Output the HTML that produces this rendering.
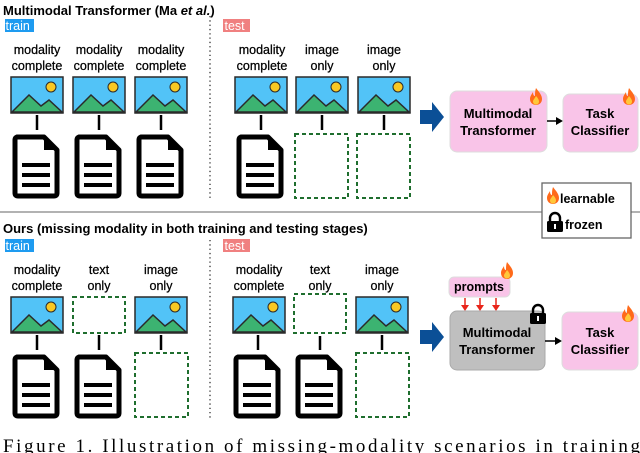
<!DOCTYPE html>
<html><head><style>body{margin:0;background:#fff}svg{display:block}</style></head><body>
<svg width="640" height="453" viewBox="0 0 640 453" xmlns="http://www.w3.org/2000/svg" font-family="Liberation Sans, sans-serif">
<defs>
<g id="img">
<rect x="0" y="0" width="52" height="36" fill="#52c3f7" stroke="#2a2a2a" stroke-width="1.5"/>
<path d="M1 35 L18 18 L30 29 L38 23 L51 35 Z" fill="#3cb371" stroke="#2a2a2a" stroke-width="1.5"/>
<circle cx="40" cy="10" r="5" fill="#f9c823" stroke="#2a2a2a" stroke-width="1"/>
</g>
<g id="doc">
<path d="M5 3 H32 L45 16 V59 Q45 62 42 62 H6 Q3 62 3 59 V6 Q3 3 6 3 Z" fill="#fff" stroke="#000" stroke-width="5" stroke-linejoin="round"/>
<path d="M32 3 V16 H45 Z" fill="#000"/>
<rect x="10" y="29" width="28" height="4" fill="#000"/>
<rect x="10" y="39" width="28" height="4" fill="#000"/>
<rect x="10" y="49" width="28" height="4" fill="#000"/>
</g>
<g id="flame">
<path d="M6 0 C9 4 12 7 12 11 C12 15 9 17 6 17 C3 17 0 15 0 11 C0 8 2 6 3 4 C3 7 4 8 5 8 C5 5 5 3 6 0 Z" fill="#ff6a1a"/>
<path d="M6 8 C8 10 9 12 9 13.5 C9 15.5 7.5 16.5 6 16.5 C4.5 16.5 3 15.5 3 13.5 C3 12 5 10 6 8 Z" fill="#ffc83a"/>
</g>
<g id="lock">
<path d="M3 8 V5 A5 5 0 0 1 13 5 V8" fill="none" stroke="#000" stroke-width="2.4"/>
<rect x="0" y="8" width="16" height="11" rx="1.5" fill="#000"/>
<rect x="7" y="11" width="2" height="5" fill="#fff"/>
</g>
</defs>

<text x="3" y="15" font-size="13" font-weight="bold">Multimodal Transformer (Ma <tspan font-style="italic">et al.</tspan>)</text>
<rect x="5" y="19" width="29" height="13" fill="#1e9bf0"/><text x="5.5" y="30" font-size="12.5" fill="#fff">train</text>
<rect x="223" y="19" width="27" height="13" fill="#f08080"/><text x="224.5" y="30" font-size="12.5" fill="#fff">test</text>
<line x1="210" y1="16" x2="210" y2="200" stroke="#333" stroke-width="1.3" stroke-dasharray="1.3,3"/>

<g font-size="12.5" text-anchor="middle" stroke="#000" stroke-width="0.25">
<text x="37" y="54">modality</text><text x="37" y="70">complete</text>
<text x="99" y="54">modality</text><text x="99" y="70">complete</text>
<text x="161" y="54">modality</text><text x="161" y="70">complete</text>
<text x="262" y="54">modality</text><text x="262" y="70">complete</text>
<text x="322" y="54">image</text><text x="322" y="70">only</text>
<text x="384" y="54">image</text><text x="384" y="70">only</text>
</g>
<use href="#img" x="11" y="77"/><use href="#img" x="73" y="77"/><use href="#img" x="135" y="77"/>
<use href="#img" x="235" y="77"/><use href="#img" x="296" y="77"/><use href="#img" x="358" y="77"/>
<g stroke="#000" stroke-width="2.5">
<line x1="37" y1="115" x2="37" y2="130"/><line x1="99" y1="115" x2="99" y2="130"/><line x1="161" y1="115" x2="161" y2="130"/>
<line x1="261" y1="115" x2="261" y2="130"/><line x1="322" y1="115" x2="322" y2="130"/><line x1="384" y1="115" x2="384" y2="130"/>
</g>
<use href="#doc" x="12" y="134"/><use href="#doc" x="74" y="134"/><use href="#doc" x="136" y="134"/><use href="#doc" x="236" y="134"/>
<g fill="none" stroke="#1f6e2e" stroke-width="2" stroke-dasharray="4,3">
<rect x="295" y="134" width="53" height="64"/><rect x="357" y="134" width="53" height="64"/>
</g>

<path d="M420 110 H432 V102 L444 117 L432 132 V124 H420 Z" fill="#0b4f96"/>
<rect x="450" y="91" width="97" height="61" rx="7" fill="#f9c4e8" stroke="#ddd"/>
<text x="498" y="118" font-size="13" font-weight="bold" text-anchor="middle">Multimodal</text>
<text x="498" y="135" font-size="13" font-weight="bold" text-anchor="middle">Transformer</text>
<use href="#flame" x="530" y="88"/>
<line x1="547" y1="121" x2="558" y2="121" stroke="#000" stroke-width="1.5"/><path d="M563 121 L556 117 V125 Z"/>
<rect x="563" y="94" width="75" height="58" rx="7" fill="#f9c4e8" stroke="#ddd"/>
<text x="600" y="118" font-size="13" font-weight="bold" text-anchor="middle">Task</text>
<text x="600" y="135" font-size="13" font-weight="bold" text-anchor="middle">Classifier</text>
<use href="#flame" x="623" y="88"/>

<line x1="0" y1="212" x2="542" y2="212" stroke="#666" stroke-width="1"/><line x1="631" y1="212" x2="640" y2="212" stroke="#666" stroke-width="1"/>
<rect x="542" y="183" width="89" height="55" fill="#fff" stroke="#666" stroke-width="1.3"/>
<use href="#flame" x="547" y="187"/><text x="560" y="203" font-size="12.5" font-weight="bold">learnable</text>
<use href="#lock" x="547" y="213"/><text x="565" y="229" font-size="12.5" font-weight="bold">frozen</text>

<text x="3" y="233" font-size="13" font-weight="bold">Ours (missing modality in both training and testing stages)</text>
<rect x="5" y="239" width="29" height="13" fill="#1e9bf0"/><text x="5.5" y="250" font-size="12.5" fill="#fff">train</text>
<rect x="223" y="239" width="27" height="13" fill="#f08080"/><text x="224.5" y="250" font-size="12.5" fill="#fff">test</text>
<line x1="210" y1="240" x2="210" y2="420" stroke="#333" stroke-width="1.3" stroke-dasharray="1.3,3"/>

<g font-size="12.5" text-anchor="middle" stroke="#000" stroke-width="0.25">
<text x="37" y="274">modality</text><text x="37" y="290">complete</text>
<text x="99" y="274">text</text><text x="99" y="290">only</text>
<text x="161" y="274">image</text><text x="161" y="290">only</text>
<text x="259" y="274">modality</text><text x="259" y="290">complete</text>
<text x="320" y="274">text</text><text x="320" y="290">only</text>
<text x="382" y="274">image</text><text x="382" y="290">only</text>
</g>
<use href="#img" x="11" y="297"/><use href="#img" x="135" y="297"/>
<use href="#img" x="233" y="297"/><use href="#img" x="356" y="297"/>
<g fill="none" stroke="#1f6e2e" stroke-width="2" stroke-dasharray="4,3">
<rect x="73" y="297" width="52" height="36"/><rect x="294" y="294" width="52" height="39"/>
<rect x="135" y="353" width="53" height="64"/><rect x="356" y="353" width="53" height="64"/>
</g>
<g stroke="#000" stroke-width="2.5">
<line x1="37" y1="335" x2="37" y2="350"/><line x1="99" y1="335" x2="99" y2="350"/><line x1="161" y1="335" x2="161" y2="350"/>
<line x1="258" y1="335" x2="258" y2="350"/><line x1="320" y1="336" x2="320" y2="350"/><line x1="382" y1="335" x2="382" y2="350"/>
</g>
<use href="#doc" x="12" y="354"/><use href="#doc" x="74" y="354"/><use href="#doc" x="233" y="354"/><use href="#doc" x="295" y="354"/>

<path d="M420 330 H432 V322 L444 337 L432 352 V344 H420 Z" fill="#0b4f96"/>
<rect x="449" y="277" width="61" height="20" rx="5" fill="#f9c4e8" stroke="#ddd"/>
<text x="479" y="291" font-size="12.5" font-weight="bold" text-anchor="middle">prompts</text>
<use href="#flame" x="501" y="262"/>
<g stroke="#e8251a" stroke-width="1.5"><line x1="465" y1="298" x2="465" y2="307"/><line x1="480" y1="298" x2="480" y2="307"/><line x1="496" y1="298" x2="496" y2="307"/></g>
<g fill="#e8251a"><path d="M461 305 H469 L465 311 Z"/><path d="M476 305 H484 L480 311 Z"/><path d="M492 305 H500 L496 311 Z"/></g>
<rect x="450" y="311" width="95" height="59" rx="7" fill="#bfbfbf" stroke="#aaa"/>
<text x="497" y="337" font-size="13" font-weight="bold" text-anchor="middle">Multimodal</text>
<text x="497" y="354" font-size="13" font-weight="bold" text-anchor="middle">Transformer</text>
<use href="#lock" x="530" y="305"/>
<line x1="545" y1="341" x2="557" y2="341" stroke="#000" stroke-width="1.5"/><path d="M562 341 L555 337 V345 Z"/>
<rect x="562" y="312" width="76" height="58" rx="7" fill="#f9c4e8" stroke="#ddd"/>
<text x="600" y="337" font-size="13" font-weight="bold" text-anchor="middle">Task</text>
<text x="600" y="354" font-size="13" font-weight="bold" text-anchor="middle">Classifier</text>
<use href="#flame" x="622" y="305"/>

<text x="3" y="452" font-family="Liberation Serif, serif" font-size="19" textLength="637">Figure 1.  Illustration of missing-modality scenarios in training</text>
</svg>
</body></html>
